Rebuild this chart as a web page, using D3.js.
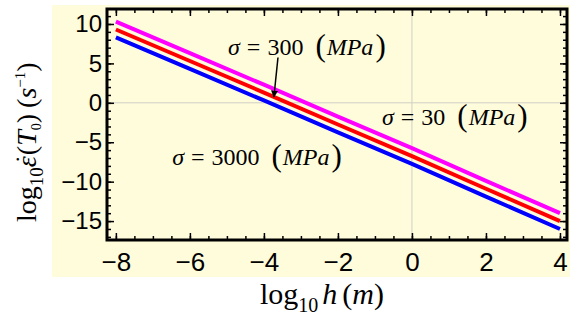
<!DOCTYPE html>
<html lang="en">
<head>
<meta charset="UTF-8">
<script src="https://cdnjs.cloudflare.com/ajax/libs/d3/7.8.5/d3.min.js"></script>
<style>
  body { margin: 0; background: #fff; }
  .serif { font-family: "Liberation Serif", "Times New Roman", serif; fill: #000; }
</style>
</head>
<body>
<div id="chart"></div>
<script>
// log10 h (m)
const logH = [-8, -6, -4, -2, 0, 2, 4];
// log10 strain rate for each stress level
const sigma30 = [10.3, 6.3, 2.3, -1.75, -5.75, -9.9, -14.0];
const sigma300 = [9.3, 5.3, 1.3, -2.75, -6.75, -10.9, -15.0];
const sigma3000 = [8.3, 4.3, 0.3, -3.75, -7.75, -11.9, -16.0];
const seriesColors = ['#ff00ff', '#ff0000', '#0000ff'];

const xTicks = [-8, -6, -4, -2, 0, 2, 4];
const yTicks = [-15, -10, -5, 0, 5, 10];

// annotations in data units
const labels = [
  { x: -4.97, y: 6.07, s: '300' },
  { x: -0.81, y: -2.81, s: '30' },
  { x: -6.48, y: -7.89, s: '3000' }
];
const arrow = { from: [-3.62, 5.75], to: [-3.73, 0.74] };

const W = 581, H = 323;
const pLeft = 107, pTop = 9, pRight = 567, pBottom = 240;

const x = d3.scaleLinear().domain([-8.24, 4.19]).range([pLeft, pRight]);
const y = d3.scaleLinear().domain([11.9, -17.4]).range([pTop, pBottom]);

const svg = d3.select('#chart').append('svg')
  .attr('width', W).attr('height', H);

// light yellow background
svg.append('rect')
  .attr('x', 52).attr('y', 5).attr('width', 518).attr('height', 272)
  .attr('fill', '#fffcdc');

// grid at zero
svg.append('line')
  .attr('x1', x(0)).attr('x2', x(0)).attr('y1', pTop).attr('y2', pBottom)
  .attr('stroke', '#cfcfc4').attr('stroke-width', 1);
svg.append('line')
  .attr('x1', pLeft).attr('x2', pRight).attr('y1', y(0)).attr('y2', y(0))
  .attr('stroke', '#cfcfc4').attr('stroke-width', 1);

// series
const line = d3.line().x((d, i) => x(logH[i])).y(d => y(d));
[sigma30, sigma300, sigma3000].forEach((s, i) => {
  svg.append('path')
    .datum(s)
    .attr('d', line)
    .attr('fill', 'none')
    .attr('stroke', seriesColors[i])
    .attr('stroke-width', 4);
});

// ticks on all four sides, pointing in
const xMinor = d3.range(-8, 4.01, 0.5);
const yMinor = d3.range(-17, 12, 1);
const addAxis = (axis, tx, ty) => svg.append('g')
  .attr('transform', `translate(${tx},${ty})`)
  .call(axis)
  .call(g => g.select('.domain').remove());

addAxis(d3.axisBottom(x).tickValues(xMinor).tickSize(-4).tickFormat(''), 0, pBottom);
addAxis(d3.axisTop(x).tickValues(xMinor).tickSize(-4).tickFormat(''), 0, pTop);
addAxis(d3.axisLeft(y).tickValues(yMinor).tickSize(-4).tickFormat(''), pLeft, 0);
addAxis(d3.axisRight(y).tickValues(yMinor).tickSize(-4).tickFormat(''), pRight, 0);

const gx = addAxis(d3.axisBottom(x).tickValues(xTicks).tickSize(-7).tickPadding(13), 0, pBottom);
addAxis(d3.axisTop(x).tickValues(xTicks).tickSize(-7).tickFormat(''), 0, pTop);
const gy = addAxis(d3.axisLeft(y).tickValues(yTicks).tickSize(-7).tickPadding(5), pLeft, 0);
addAxis(d3.axisRight(y).tickValues(yTicks).tickSize(-7).tickFormat(''), pRight, 0);
svg.selectAll('.tick line').attr('stroke', '#000').attr('stroke-width', 1.5);
gx.selectAll('text')
  .style('font-family', '"Liberation Sans", Arial, sans-serif')
  .style('font-size', '26px').attr('fill', '#000');
gy.selectAll('text')
  .style('font-family', '"Liberation Sans", Arial, sans-serif')
  .style('font-size', '24px').attr('fill', '#000');

// frame
svg.append('rect')
  .attr('x', pLeft).attr('y', pTop).attr('width', pRight - pLeft).attr('height', pBottom - pTop)
  .attr('fill', 'none').attr('stroke', '#000').attr('stroke-width', 3);

// stress labels
labels.forEach(l => {
  const t = svg.append('text').attr('class', 'serif')
    .attr('x', x(l.x)).attr('y', y(l.y)).style('font-size', '24px');
  t.append('tspan').style('font-style', 'italic').text('σ');
  t.append('tspan').attr('dx', 7).text('=');
  t.append('tspan').attr('dx', 7).text(l.s);
  t.append('tspan').attr('dx', 12).attr('dy', 1).style('font-size', '31px').text('(');
  t.append('tspan').attr('dx', 1).attr('dy', -1).style('font-style', 'italic').text('MPa');
  t.append('tspan').attr('dx', 2).attr('dy', 1).style('font-size', '31px').text(')');
});

// arrow
svg.append('defs').append('marker')
  .attr('id', 'head').attr('viewBox', '0 0 10 10')
  .attr('refX', 9).attr('refY', 5)
  .attr('markerWidth', 7).attr('markerHeight', 8)
  .attr('markerUnits', 'userSpaceOnUse')
  .attr('orient', 'auto')
  .append('path').attr('d', 'M0,0 L10,5 L0,10 z').attr('fill', '#000');
svg.append('line')
  .attr('x1', x(arrow.from[0])).attr('y1', y(arrow.from[1]))
  .attr('x2', x(arrow.to[0])).attr('y2', y(arrow.to[1]))
  .attr('stroke', '#000').attr('stroke-width', 1.5)
  .attr('marker-end', 'url(#head)');

// x axis title
const xt = svg.append('text').attr('class', 'serif')
  .attr('x', 260).attr('y', 304)
  .style('font-size', '30px');
xt.append('tspan').text('log');
xt.append('tspan').attr('dy', 8).style('font-size', '20px').text('10');
xt.append('tspan').attr('dx', 4).attr('dy', -8).style('font-style', 'italic').text('h');
xt.append('tspan').attr('dx', 5).text('(');
xt.append('tspan').style('font-style', 'italic').text('m');
xt.append('tspan').text(')');

// y axis title
const yt = svg.append('text').attr('class', 'serif')
  .attr('transform', 'translate(36,222) rotate(-90)')
  .style('font-size', '28px');
yt.append('tspan').text('log');
yt.append('tspan').attr('dy', 7).style('font-size', '19px').text('10');
yt.append('tspan').attr('dy', -7).style('font-style', 'italic').text('\u03b5');
yt.append('tspan').attr('dx', -7).attr('dy', -4).style('font-size', '24px').text('\u02d9');
yt.append('tspan').attr('dx', 0).attr('dy', 4).text('(');
yt.append('tspan').style('font-style', 'italic').text('T');
yt.append('tspan').attr('dy', 5).style('font-size', '14px').text('0');
yt.append('tspan').attr('dy', -5).text(')');
yt.append('tspan').attr('dx', 6).text('(');
yt.append('tspan').style('font-style', 'italic').text('s');
yt.append('tspan').attr('dy', -11).style('font-size', '15px').text('\u22121');
yt.append('tspan').attr('dy', 11).text(')');
</script>
</body>
</html>
